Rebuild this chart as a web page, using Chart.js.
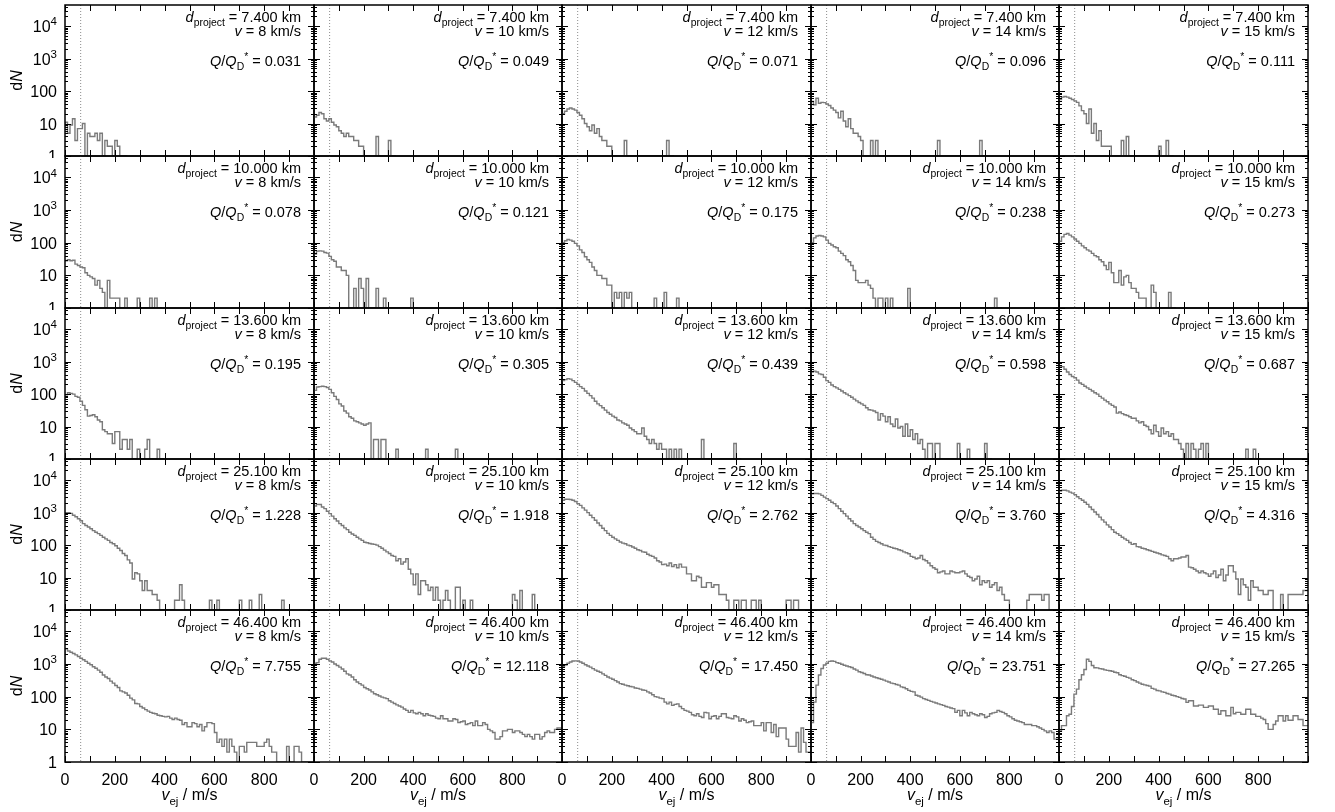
<!DOCTYPE html>
<html lang="en">
<head>
<meta charset="UTF-8">
<title>Ejecta velocity distributions</title>
<script src="https://cdn.jsdelivr.net/npm/chart.js@4.4.1/dist/chart.umd.min.js"></script>
<style>
  html, body { margin: 0; padding: 0; background: #fff; }
  #grid { position: relative; width: 1335px; height: 812px; overflow: hidden; }
  #grid canvas { position: absolute; }
</style>
</head>
<body>
<div id="grid"></div>
<script>
// ---- data: counts per 10 m/s bin, starting at 0 m/s ----
const binWidth = 10;
const escapeSpeed = 63;
const yMin = 1, yMax = 45000;
const diameters = ['7.400', '10.000', '13.600', '25.100', '46.400'];
const speeds = [8, 10, 12, 14, 15];
const qRatios = [
  ['0.031', '0.049', '0.071', '0.096', '0.111'],
  ['0.078', '0.121', '0.175', '0.238', '0.273'],
  ['0.195', '0.305', '0.439', '0.598', '0.687'],
  ['1.228', '1.918', '2.762', '3.760', '4.316'],
  ['7.755', '12.118', '17.450', '23.751', '27.265']
];
const xTickValues = [0, 100, 200, 300, 400, 500, 600, 700, 800, 900, 1000];
const xLabelValues = [0, 200, 400, 600, 800];
const yLabels = [[1, '1', ''], [10, '10', ''], [100, '100', ''], [1000, '10', '3'], [10000, '10', '4']];

// d = 7.4 km
const h7_8 = [8,11,5,9,14,3,7,7,10,0, 5,4,4,5,3,5,0,3,2,2, 1,3,2,1,0];
const h7_10 = [10,16,18,22,20,14,12,14,11,9, 8,6,5,4,5,4,4,3,3,2, 2,0,0,0,0,0,4,0,0,0, 0,3,0];
const h7_12 = [15,20,24,28,30,28,26,22,18,14, 10,8,6,9,5,7,4,3,3,2, 2,1,0,0,0,0,3,0,0,0, 0,0,0,0,0,0,0,0,0,0, 0,0,0,3,0];
const h7_14 = [30,48,38,60,42,45,44,40,36,30, 26,22,15,24,12,8,14,7,5,5, 4,3,0,0,0,3,0,3,0,0, 0,0,0,0,0,0,0,0,0,0, 0,0,0,0,0,0,0,0,0,0, 0,0,3,0,0,0,0,0,0,0, 0,0,0,0,0,0,0,0,0,3, 0];
const h7_15 = [38,55,65,68,65,60,55,50,45,35, 25,20,10,28,5,10,3,6,2,2, 2,2,0,0,0,0,3,0,4,0, 0,0,0,0,0,0,0,0,0,0, 0,2,0,0,3,0];

// d = 10 km
const h10_8 = [26,28,30,28,29,22,20,18,17,12, 10,9,8,5,7,4,3,0,7,2, 2,2,2,0,0,2,0,0,0,0, 2,0,0,0,0,2,0,2,0];
const h10_10 = [27,45,55,56,55,50,48,38,30,27, 18,18,14,14,10,1,0,4,1,8, 4,0,8,1,0,0,4,0,0,2, 0,0,0,0,0,0,0,0,0,0, 2,0];
const h10_12 = [80,100,115,125,120,110,95,80,60,50, 37,30,25,18,14,10,10,8,8,5, 5,1,3,2,3,0,3,2,3,0, 0,0,0,0,0,0,0,0,2,0, 0,0,3,0,0,0,0,2,0];
const h10_14 = [75,100,140,160,165,160,150,120,95,85, 75,70,55,47,40,30,26,20,14,7, 6,6,6,7,5,4,2,0,2,2, 0,2,0,2,0,0,0,0,0,0, 4,0,0,0,0,0,0,0,0,0, 0,0,0,0,0,0,0,0,0,0, 0,0,0,0,0,0,0,0,0,0, 0,0,0,0,0,2,0];
const h10_15 = [85,110,150,180,190,170,150,130,110,95, 80,70,60,55,47,40,37,30,26,20, 15,25,12,6,6,14,5,9,10,6, 4,4,3,2,2,2,1,0,5,3, 1,1,1,0,0,3,0];

// d = 13.6 km
const h13_8 = [90,95,110,105,100,85,80,60,45,33, 21,22,23,20,16,14,8,7,6,6, 3,7,7,2,4,4,2,4,1,0, 2,0,1,2,4,0,0,0,2,0];
const h13_10 = [110,130,165,170,175,170,160,140,110,85, 68,50,43,30,26,20,18,15,14,13, 12,11,12,13,1,4,4,1,4,4, 0,0,0,0,2,0,0,0,0,0, 0,0,0,0,0,0,2,0,0,0, 0,0,0,0,0,0,0,0,2,0];
const h13_12 = [230,260,280,300,290,260,230,200,170,150, 125,105,90,75,60,50,44,38,32,27, 24,21,19,16,15,13,12,11,9,8, 7,6,6,9,5,4,3,4,3,2, 3,2,2,0,2,1,2,0,2,0, 0,0,0,0,0,0,0,4,0,0, 0,0,0,0,0,0,0,0,0,0, 3,0];
const h13_14 = [400,480,510,480,420,400,330,260,230,190, 170,155,140,125,110,100,90,80,70,62, 55,50,45,38,33,32,30,27,16,25, 21,14,20,12,10,17,9,10,5,12, 5,8,4,6,3,4,2,1,3,3, 1,3,3,1,0,0,0,0,0,0, 3,0,0,0,2,0,0,0,0,0, 0,3,0];
const h13_15 = [700,730,700,580,480,400,350,320,270,220, 200,175,155,140,125,110,100,85,75,65, 58,50,45,40,26,28,25,23,22,20, 18,18,15,13,14,11,10,8,6,11, 7,5,9,6,7,5,6,4,4,3, 2,1,3,1,3,2,1,2,3,1, 3,0,0,0,0,0,0,0,0,0, 0,0,0,0,0,0,2,0,0,2, 0];

// d = 25.1 km
const h25_8 = [900,1000,1000,950,830,750,650,560,460,400, 360,320,280,250,225,200,175,155,140,120, 110,95,80,68,55,48,35,28,9,14, 13,8,4,8,4,4,3,3,2,0, 0,0,0,0,0,2,2,6,2,0, 0,0,0,0,0,0,0,0,0,2, 0,0,2,0,0,0,0,0,0,0, 0,2,0,0,0,2,0,0,0,3, 0,0,0,0,0,0,0,0,2,0];
const h25_10 = [1300,1600,1800,1780,1500,1330,1100,930,780,650, 550,460,400,340,300,250,220,200,175,156, 140,123,118,112,108,105,100,90,80,70, 62,55,48,45,33,38,26,30,38,18, 13,6,13,3,8,8,6,4,5,2, 5,2,1,2,4,2,1,1,5,5, 1,2,1,0,2,0,0,0,0,0, 0,0,0,0,0,0,0,0,0,0, 0,3,2,0,4,0,0,0,0,3, 0];
const h25_12 = [2000,2400,2600,2600,2550,2400,2200,1900,1680,1400, 1200,1000,830,700,580,480,400,330,280,230, 200,175,155,140,125,115,110,100,95,87, 80,72,68,62,60,52,48,45,40,33, 30,25,26,23,28,22,25,20,26,21, 21,13,13,8,8,11,10,5,5,7, 7,5,6,6,3,3,3,2,1,1, 2,2,1,2,2,1,1,2,2,1, 2,1,0,1,0,0,0,0,0,0, 0,2,2,0,2,2,0,0,0,0];
const h25_14 = [3500,3800,3900,3900,3800,3400,3000,2700,2400,2100, 1900,1600,1330,1100,930,780,650,550,460,400, 360,320,280,250,225,175,150,130,120,110, 100,97,90,85,80,77,72,68,62,58, 54,45,42,38,40,48,36,33,28,23, 20,18,14,15,16,13,13,16,15,14, 14,15,16,13,11,10,8,9,11,6, 8,7,8,5,6,7,4,5,3,2, 2,1,1,1,1,1,1,1,2,3, 3,3,3,3,2,3,3,1,1,1];
const h25_15 = [3900,4600,4900,4900,4700,4300,4000,3600,3100,2700, 2400,2100,1800,1500,1250,1050,880,730,600,510, 420,360,300,250,225,200,175,155,140,120, 105,110,90,87,80,77,72,68,64,60, 57,54,50,48,45,38,33,38,38,40, 43,43,48,21,20,18,16,14,16,14, 13,11,13,16,10,12,18,8,12,23, 23,15,9,3,9,6,5,2,8,5, 5,4,4,3,3,4,4,1,1,1, 3,1,1,3,3,3,3,3,3,4];

// d = 46.4 km
const h46_8 = [280,2900,2500,2300,2100,1900,1700,1500,1350,1200, 1050,950,820,740,650,560,460,400,360,300, 260,220,190,150,140,130,110,90,80,62, 60,50,45,40,36,33,31,30,27,26, 25,24,25,22,20,22,20,19,14,16, 12,12,16,15,12,14,9,12,16,16, 15,8,4,5,3,5,2,5,3,2, 1,3,3,2,4,4,4,4,3,3, 3,4,5,3,2,2,1,1,1,1, 3,1,1,3,3,2,0,0,0,0];
const h46_10 = [730,1050,1100,1400,1500,1500,1400,1250,1150,1000, 900,800,700,600,500,460,400,330,280,250, 225,190,175,160,140,123,115,105,97,92, 87,75,68,62,56,52,48,42,38,33, 38,32,30,33,30,26,30,27,26,25, 22,21,26,21,21,18,18,21,20,16, 17,18,14,15,16,13,18,13,13,16, 14,10,9,8,5,5,6,9,9,10, 10,8,9,9,8,7,6,7,6,5, 7,7,5,6,8,9,8,8,10,11];
const h46_12 = [230,830,930,1050,1150,1230,1250,1230,1150,1050, 950,870,800,720,650,600,560,500,450,400, 370,340,310,280,250,240,225,215,205,200, 185,180,170,160,156,140,130,115,100,97, 90,87,68,60,68,54,58,60,50,43, 38,36,33,28,26,30,25,23,33,32, 21,25,26,21,25,30,30,23,22,21, 26,24,18,21,19,16,17,18,13,13, 13,16,9,16,16,8,14,6,11,11, 11,5,3,3,3,8,2,11,4,2];
const h46_14 = [8,16,68,225,460,730,930,1050,1200,1230, 1200,1100,1050,980,920,870,820,780,700,650, 580,550,510,470,460,430,400,380,360,340, 320,300,280,260,250,235,225,200,190,175, 156,145,140,110,105,97,87,82,77,72, 68,64,60,57,54,50,48,45,43,33, 38,26,38,32,26,33,30,28,26,30, 28,23,25,30,32,33,38,35,33,30, 26,24,21,19,18,17,16,14,14,14, 13,13,12,11,10,9,8,9,8,5];
const h46_15 = [9,9,13,13,26,29,50,120,170,330, 470,680,1400,1200,900,770,760,720,700,660, 640,620,600,560,540,470,440,420,390,370, 330,310,280,260,240,230,220,210,180,170, 155,150,140,135,125,120,110,107,100,95, 88,85,67,75,75,52,52,55,55,47, 47,52,52,41,41,29,37,37,26,26, 47,30,33,33,29,29,41,41,29,29, 25,25,22,20,15,10,10,14,18,26, 26,18,26,19,19,26,26,20,20,13];

const counts = [
  [h7_8, h7_10, h7_12, h7_14, h7_15],
  [h10_8, h10_10, h10_12, h10_14, h10_15],
  [h13_8, h13_10, h13_12, h13_14, h13_15],
  [h25_8, h25_10, h25_12, h25_14, h25_15],
  [h46_8, h46_10, h46_12, h46_14, h46_15]
];

// ---- layout ----
const FONT = "'Liberation Sans', Arial, Helvetica, sans-serif";
const colLeft = [65, 314, 562, 811, 1059, 1308];
const rowTop = [5, 156, 308, 459, 610, 762];
const pad = 2;

function fontFor(p, size) {
  const s = (p.sub || p.sup) ? size * 0.72 : size;
  return (p.it ? 'italic ' : '') + s.toFixed(1) + 'px ' + FONT;
}
function runWidth(ctx, parts, size) {
  let w = 0;
  for (const p of parts) {
    ctx.font = fontFor(p, size);
    w += ctx.measureText(p.t).width;
  }
  return w;
}
function drawRun(ctx, parts, x, y, size, align) {
  const w = runWidth(ctx, parts, size);
  let cx = align === 'right' ? x - w : align === 'center' ? x - w / 2 : x;
  ctx.textAlign = 'left';
  ctx.textBaseline = 'alphabetic';
  for (const p of parts) {
    ctx.font = fontFor(p, size);
    const dy = p.sub ? size * 0.3 : p.sup ? -size * 0.42 : 0;
    ctx.fillText(p.t, cx, y + dy);
    cx += ctx.measureText(p.t).width;
  }
}

function panelPlugin(row, col) {
  return {
    id: 'panel',
    beforeDatasetsDraw(chart) {
      const { ctx, chartArea: a } = chart;
      const px = chart.scales.x.getPixelForValue(escapeSpeed);
      ctx.save();
      ctx.strokeStyle = '#8c8c8c';
      ctx.lineWidth = 1;
      ctx.setLineDash([1, 2]);
      ctx.beginPath();
      ctx.moveTo(px, a.top);
      ctx.lineTo(px, a.bottom);
      ctx.stroke();
      ctx.restore();
    },
    afterDraw(chart) {
      const { ctx, chartArea: a } = chart;
      const xs = chart.scales.x, ys = chart.scales.y;
      ctx.save();
      ctx.strokeStyle = '#000';
      ctx.fillStyle = '#000';
      ctx.lineWidth = 1;
      ctx.beginPath();
      // x tics, inward on top and bottom
      xTickValues.forEach(v => {
        const px = Math.round(xs.getPixelForValue(v)) + 0.5;
        ctx.moveTo(px, a.bottom); ctx.lineTo(px, a.bottom - 6);
        ctx.moveTo(px, a.top); ctx.lineTo(px, a.top + 6);
      });
      // y tics, major and minor, inward on left and right
      for (let e = 0; e <= 4; e++) {
        for (let m = 1; m <= 9; m++) {
          const v = m * Math.pow(10, e);
          if (v > ys.max) break;
          const py = Math.round(ys.getPixelForValue(v)) + 0.5;
          const len = m === 1 ? 6 : 3;
          ctx.moveTo(a.left, py); ctx.lineTo(a.left + len, py);
          ctx.moveTo(a.right, py); ctx.lineTo(a.right - len, py);
        }
      }
      ctx.stroke();

      // frame
      ctx.lineWidth = 1.5;
      ctx.strokeRect(a.left, a.top, a.right - a.left, a.bottom - a.top);

      // annotation, top right
      const xr = a.right - 13;
      drawRun(ctx, [{ t: 'd', it: true }, { t: 'project', sub: true }, { t: ' = ' + diameters[row] + ' km' }], xr, a.top + 17, 14.5, 'right');
      drawRun(ctx, [{ t: 'v', it: true }, { t: ' = ' + speeds[col] + ' km/s' }], xr, a.top + 31, 14.5, 'right');
      drawRun(ctx, [{ t: 'Q', it: true }, { t: '/' }, { t: 'Q', it: true }, { t: 'D', sub: true }, { t: '*', sup: true },
        { t: ' = ' + qRatios[row][col] }], xr, a.top + 61, 14.5, 'right');

      // left axis labels
      if (col === 0) {
        yLabels.forEach(([v, base, exp]) => {
          const py = ys.getPixelForValue(v);
          const parts = [{ t: base }];
          if (exp) parts.push({ t: exp, sup: true });
          drawRun(ctx, parts, a.left - 8, py + 6, 16, 'right');
        });
        ctx.save();
        ctx.translate(22, (a.top + a.bottom) / 2);
        ctx.rotate(-Math.PI / 2);
        drawRun(ctx, [{ t: 'd' }, { t: 'N', it: true }], 0, 0, 16, 'center');
        ctx.restore();
      }
      // bottom axis labels
      if (row === 4) {
        xLabelValues.forEach(v => {
          drawRun(ctx, [{ t: String(v) }], xs.getPixelForValue(v), a.bottom + 23, 16, 'center');
        });
        drawRun(ctx, [{ t: 'v', it: true }, { t: 'ej', sub: true }, { t: ' / m/s' }],
          (a.left + a.right) / 2, a.bottom + 38, 16, 'center');
      }
      ctx.restore();
    }
  };
}

const grid = document.getElementById('grid');
for (let row = 0; row < 5; row++) {
  for (let col = 0; col < 5; col++) {
    const L = colLeft[col], T = rowTop[row];
    const w = colLeft[col + 1] - L, h = rowTop[row + 1] - T;
    const padL = col === 0 ? L : (row === 4 ? 14 : pad);
    const padB = row === 4 ? 50 : pad;
    const cw = padL + w + pad, ch = pad + h + padB;
    const canvas = document.createElement('canvas');
    canvas.width = cw; canvas.height = ch;
    canvas.style.width = cw + 'px'; canvas.style.height = ch + 'px';
    canvas.style.left = (L - padL) + 'px';
    canvas.style.top = (T - pad) + 'px';
    grid.appendChild(canvas);

    // empty bins sit on the lower edge of the log axis
    const bins = counts[row][col];
    const points = bins.map((c, i) => ({ x: i * binWidth, y: c > 0 ? c : yMin }));
    points.push({ x: bins.length * binWidth, y: points[points.length - 1].y });

    new Chart(canvas, {
      type: 'line',
      data: {
        datasets: [{
          data: points,
          stepped: 'after',
          borderColor: '#7a7a7a',
          borderWidth: 1.4,
          pointRadius: 0,
          fill: false
        }]
      },
      options: {
        responsive: false,
        animation: false,
        devicePixelRatio: 1,
        layout: { padding: { left: padL, right: pad, top: pad, bottom: padB } },
        scales: {
          x: { type: 'linear', min: 0, max: 1000, display: false },
          y: { type: 'logarithmic', min: yMin, max: yMax, display: false }
        },
        plugins: { legend: { display: false }, tooltip: { enabled: false } }
      },
      plugins: [panelPlugin(row, col)]
    });
  }
}
</script>
</body>
</html>
